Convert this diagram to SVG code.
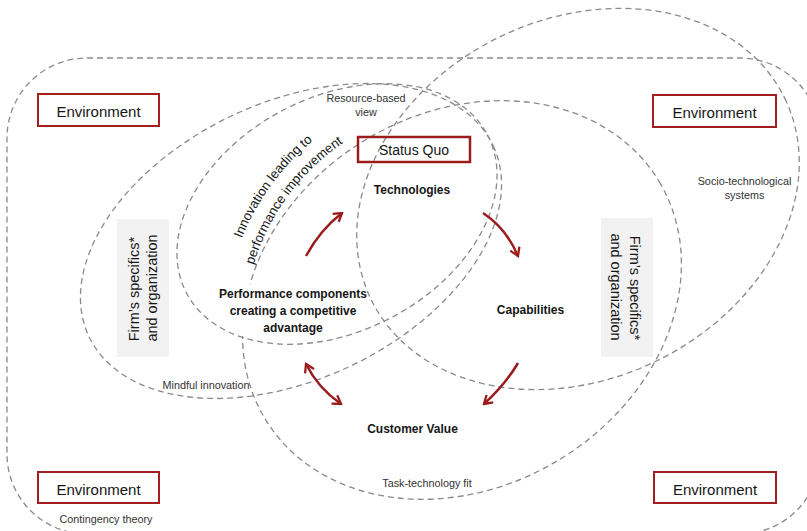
<svg xmlns="http://www.w3.org/2000/svg" width="807" height="531" viewBox="0 0 807 531">
<style>
.frame{fill:none;stroke:#8a8a8a;stroke-width:1.3;stroke-dasharray:6 4}
.t{font-family:"Liberation Sans",Arial,sans-serif;fill:#161616}
.env rect{fill:#fff;stroke:#a31e1e;stroke-width:2}
.env text{font-size:15px;text-anchor:middle}
.b{font-weight:bold;font-size:12px;text-anchor:middle}
.s{font-size:10.8px;text-anchor:middle;fill:#333}
.arr{fill:none;stroke:#9b1c1c;stroke-width:2.5}
.firm rect{fill:#f2f2f2}
.firm text{font-size:14.5px;text-anchor:middle}
.curve{font-size:13.2px;text-anchor:middle}
</style>
<defs>
<marker id="head" viewBox="0 0 12 12" refX="10" refY="6" markerWidth="12" markerHeight="12" markerUnits="userSpaceOnUse" orient="auto-start-reverse">
<path d="M2,1 L10,6 L2,11" fill="none" stroke="#9b1c1c" stroke-width="2.3"/>
</marker>
<path id="arc1" d="M227.7,288.1 A246,246 0 0 1 366.0,107.0"/>
<path id="arc2" d="M247.4,290.8 A226,226 0 0 1 374.5,125.2"/>
</defs>

<g id="frames-back">
<rect class="frame" x="7" y="58" width="813" height="476" rx="80" ry="80"/>
<ellipse class="frame" cx="462" cy="300" rx="230" ry="187" transform="rotate(-31 462 300)"/>
<ellipse class="frame" cx="578" cy="199" rx="230" ry="180" transform="rotate(-26 578 199)"/>
</g>

<g id="performance">
<rect x="210" y="284" width="150" height="52" fill="#fff"/>
<text class="t b" x="293" y="298">Performance components</text>
<text class="t b" x="293" y="315">creating a competitive</text>
<text class="t b" x="293" y="332">advantage</text>
</g>

<g id="frames-front">
<ellipse class="frame" cx="337" cy="214" rx="170" ry="117" transform="rotate(-27.7 337 214)"/>
<ellipse class="frame" cx="291" cy="241" rx="223.5" ry="138.5" transform="rotate(-25.3 291 241)"/>
</g>

<g id="frame-labels">
<text class="t s" x="366" y="102" font-size="10.3">Resource-based</text>
<text class="t s" x="366" y="115.5" font-size="10.3">view</text>
<text class="t s" x="744.5" y="185">Socio-technological</text>
<text class="t s" x="744.5" y="198.5">systems</text>
<text class="t s" x="206" y="389" font-size="11.5">Mindful innovation</text>
<text class="t s" x="106" y="523">Contingency theory</text>
<text class="t s" x="427" y="487" font-size="10.2">Task-technology fit</text>
<text class="t curve"><textPath href="#arc1" startOffset="47.6%">Innovation leading to</textPath></text>
<text class="t curve"><textPath href="#arc2" startOffset="47.8%">performance improvement</textPath></text>
</g>

<g id="env-tl" class="env"><rect x="38" y="94" width="121" height="32"/><text class="t" x="98.5" y="116.5">Environment</text></g>
<g id="env-tr" class="env"><rect x="653" y="95" width="123" height="32"/><text class="t" x="714.5" y="117.5">Environment</text></g>
<g id="env-bl" class="env"><rect x="38" y="472" width="121" height="31"/><text class="t" x="98.5" y="494.5">Environment</text></g>
<g id="env-br" class="env"><rect x="654" y="472" width="122" height="31"/><text class="t" x="715" y="494.5">Environment</text></g>

<g id="status-quo">
<rect x="358" y="137" width="112" height="25" fill="none" stroke="#9b1c1c" stroke-width="2.5"/>
<text class="t" x="414" y="155" font-size="14" text-anchor="middle">Status Quo</text>
</g>

<g id="technologies"><text class="t b" x="412" y="193.5">Technologies</text></g>
<g id="capabilities"><text class="t b" x="530.5" y="313.5">Capabilities</text></g>
<g id="customer-value"><text class="t b" x="412.5" y="433">Customer Value</text></g>

<g id="firm-left" class="firm">
<rect x="117" y="219" width="52" height="138"/>
<text class="t" transform="translate(139 289) rotate(-90)">Firm’s specifics*</text>
<text class="t" transform="translate(157 288) rotate(-90)">and organization</text>
</g>
<g id="firm-right" class="firm">
<rect x="601" y="218" width="52" height="139"/>
<text class="t" transform="translate(630 288) rotate(90)">Firm’s specifics*</text>
<text class="t" transform="translate(611 287) rotate(90)">and organization</text>
</g>

<g id="connectors">
<path class="arr" d="M306,256 Q320,230 342,213" marker-end="url(#head)"/>
<path class="arr" d="M483,213 Q506,228 518,256" marker-end="url(#head)"/>
<path class="arr" d="M518,363 Q505,385 484,404" marker-end="url(#head)"/>
<path class="arr" d="M306,364 Q318,388 341,404" marker-start="url(#head)" marker-end="url(#head)"/>
</g>
</svg>
